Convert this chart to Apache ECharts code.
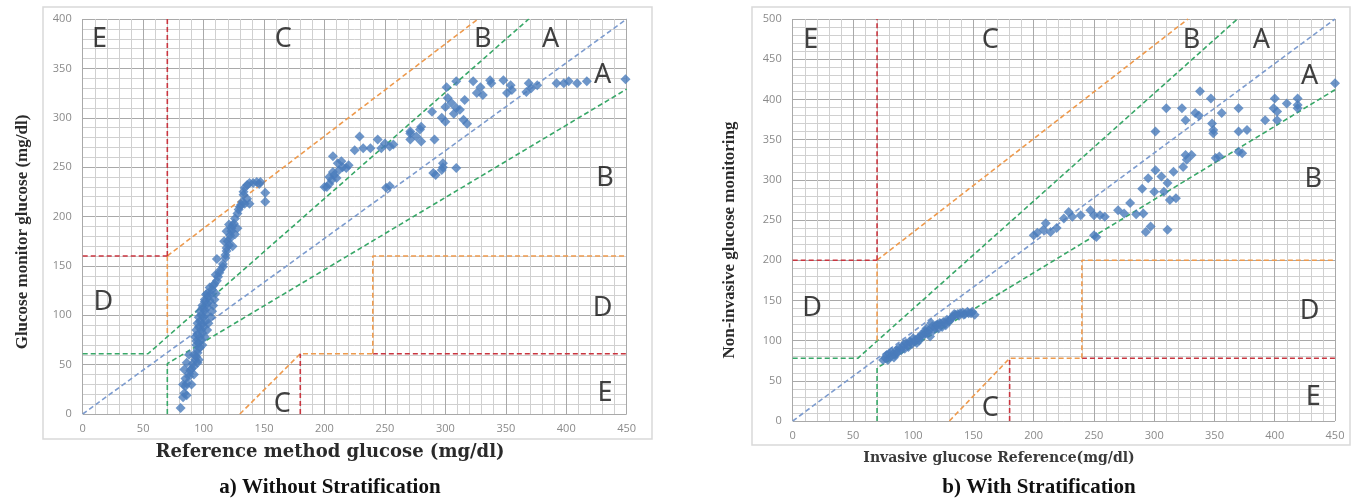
<!DOCTYPE html>
<html>
<head>
    <meta charset="utf-8">
    <title>Clarke error grid</title>
    <script src="https://cdn.jsdelivr.net/npm/echarts@6/dist/echarts.min.js"></script>
</head>
<body style="margin:0;background-color:#fff;">
    <div id="main" style="width:1352px;height:500px;"></div>
    <script type="text/javascript">
        // ---------- a) Without Stratification ----------
        // measured points [reference, monitor]
        var ptsA = [
            [81,6],[83,17],[84,21],[86,19],[85,28],[86,31],[83,30],[90,30],[85,36],[88,38],[88,41],[92,40],
            [89,44],[84,45],[90,46],[92,48],[91,51],[86,52],[95,52],[93,55],[96,55],[94,58],[92,60],[88,60],
            [95,62],[95,65],[97,67],[94,70],[99,70],[96,72],[94,74],[98,75],[97,78],[93,78],[101,78],[95,80],
            [99,82],[98,85],[94,85],[103,85],[96,88],[100,88],[99,91],[95,92],[104,92],[97,94],[101,94],
            [100,98],[96,98],[106,98],[98,100],[102,101],[101,105],[97,104],[107,104],[99,107],[103,108],
            [103,112],[99,110],[108,110],[101,114],[105,115],[101,116],[109,116],[104,119],[102,121],[106,122],
            [103,122],[110,122],[107,126],[105,128],[108,130],[109,132],[111,135],[112,139],[110,141],[113,143],
            [114,146],[116,149],[116,152],[111,157],[118,158],[118,161],[119,165],[119,168],[121,171],[120,175],
            [117,175],[124,170],[122,178],[122,181],[119,185],[126,182],[123,185],[123,188],[121,192],[128,188],
            [124,191],[125,193],[126,198],[128,203],[129,207],[130,210],[131,212],[132,215],[134,213],[138,213],
            [136,218],[133,222],[133,225],[134,229],[136,232],[138,234],[141,234],[144,235],[147,235],[146,233],
            [151,224],[151,215],
            [200,230],[202,230],[204,233],[206,237],[204,240],[208,242],[207,245],[210,239],[212,247],[215,250],
            [218,249],[211,254],[207,261],[214,256],[220,252],[225,267],[229,281],[232,269],[238,269],[244,278],
            [247,269],[250,274],[254,271],[251,229],[254,231],[257,273],
            [271,278],[276,281],[280,276],[271,286],[271,284],[280,291],[279,288],[289,306],[291,278],[290,244],
            [292,242],[297,247],[298,254],[298,250],[309,249],[297,300],[300,296],[300,311],[302,320],[301,331],
            [309,337],[305,315],[309,310],[307,304],[315,298],[318,294],[312,308],[316,318],[323,337],[326,325],
            [329,331],[331,323],[337,338],[338,335],[348,338],[354,333],[351,325],[355,328],[369,335],[371,330],
            [367,326],[376,333],[392,335],[398,335],[402,337],[409,335],[417,337],[449,339]
        ];
        // zone boundaries a)
        var aDiag = [[0,0],[450,400]];
        var aGreenUp = [[0,61],[54,61],[369,400]];
        var aGreenLow = [[70,0],[70,51],[450,329]];
        var aOrangeUp = [[70,160],[327,400]];
        var aOrangeV = [[70,82],[70,160]];
        var aRedV = [[70,160],[70,400]];
        var aRedH = [[0,160],[70,160]];
        var aOrangeLow = [[130,0],[180,61],[240,61]];
        var aRedLowV = [[180,0],[180,61]];
        var aRedLowH = [[240,61],[450,61]];
        var aOrangeBox = [[240,61],[240,160],[450,160]];
        var aZones = [[14,379,'E'],[166,379,'C'],[331,379,'B'],[387,379,'A'],[430,343,'A'],[432,239,'B'],
                      [17,113,'D'],[430,107,'D'],[165,10,'C'],[432,21,'E']];

        // ---------- b) With Stratification ----------
        var ptsB = [
            [75,76],[78,82],[81,80],[82,86],[84,79],[86,84],[86,88],[90,88],[92,95],[96,92],[97,99],[100,103],
            [103,97],[106,105],[110,109],[111,115],[114,105],[115,122],[117,113],[121,115],[122,122],[127,119],
            [128,126],[132,128],[135,132],[139,134],[142,132],[145,136],[149,136],[151,132],
            [77,78],[80,84],[85,82],[88,91],[93,90],[94,97],[99,96],[102,101],[105,100],[108,106],[110,112],
            [112,110],[118,116],[119,119],[124,117],[125,123],[130,124],[133,130],[137,133],[141,135],[146,134],
            [79,76],[83,83],[87,86],[91,92],[95,95],[98,98],[101,99],[104,103],[107,108],[113,113],[116,118],
            [120,120],[123,121],[127,122],[131,127],[134,133],[138,131],[143,133],[148,134],
            [200,231],[203,234],[208,238],[210,246],[214,235],[219,240],[225,252],[229,260],[232,254],[239,256],
            [247,262],[250,256],[255,256],[259,254],[252,229],[250,231],[270,262],[275,258],[280,271],[285,257],
            [291,258],[293,235],[297,242],[311,238],[290,289],[295,302],[300,285],[301,312],[306,304],[311,296],
            [308,285],[316,310],[313,275],[318,277],[301,360],[310,389],[323,389],[326,374],[334,383],[337,380],
            [338,410],[347,401],[348,370],[349,362],[349,358],[356,383],[326,331],[331,331],[327,325],[324,316],
            [351,327],[354,329],[370,389],[370,360],[377,362],[370,335],[373,333],[392,374],[399,389],[400,401],
            [402,385],[402,374],[410,395],[419,401],[419,393],[419,389],[450,420]
        ];
        var bDiag = [[0,0],[450,500]];
        var bGreenUp = [[0,78],[54,78],[369,500]];
        var bGreenLow = [[70,0],[70,66],[450,412]];
        var bOrangeUp = [[70,200],[328,500]];
        var bOrangeV = [[70,100],[70,200]];
        var bRedV = [[70,200],[70,500]];
        var bRedH = [[0,200],[70,200]];
        var bOrangeLow = [[130,0],[180,78],[240,78]];
        var bRedLowV = [[180,0],[180,78]];
        var bRedLowH = [[240,78],[450,78]];
        var bOrangeBox = [[240,78],[240,200],[450,200]];
        var bZones = [[15,474,'E'],[164,474,'C'],[331,474,'B'],[389,474,'A'],[429,429,'A'],[432,300,'B'],
                      [16,140,'D'],[429,137,'D'],[164,16,'C'],[432,29,'E']];

        var BLUE = '#7d9ccf', GREEN = '#38a868', ORANGE = '#ee9a4d', RED = '#c9353f';

        var myChart = echarts.init(document.getElementById('main'));

        function axisX(idx) {
            return {
                type: 'value', gridIndex: idx, min: 0, max: 450, interval: 50,
                axisLine: { show: false }, axisTick: { show: false },
                axisLabel: { color: '#8a8a8a', fontSize: 11, fontFamily: 'Open Sans', margin: 9 },
                splitLine: { show: true, lineStyle: { color: '#a9a9a9', width: 1 } },
                minorTick: { show: false, splitNumber: 5 },
                minorSplitLine: { show: true, lineStyle: { color: '#d0d0d0', width: 1 } }
            };
        }
        function axisY(idx, max) {
            return {
                type: 'value', gridIndex: idx, min: 0, max: max, interval: 50,
                axisLine: { show: false }, axisTick: { show: false },
                axisLabel: { color: '#8a8a8a', fontSize: 11, fontFamily: 'Open Sans', margin: 11 },
                splitLine: { show: true, lineStyle: { color: '#a9a9a9', width: 1 } },
                minorTick: { show: false, splitNumber: 5 },
                minorSplitLine: { show: true, lineStyle: { color: '#d0d0d0', width: 1 } }
            };
        }
        function zoneLine(idx, data, color) {
            return {
                type: 'line', xAxisIndex: idx, yAxisIndex: idx, data: data, symbol: 'none',
                lineStyle: { color: color, width: 1.6, type: [5, 3] }, z: 3, silent: true
            };
        }
        function zoneText(idx, data) {
            return {
                type: 'scatter', xAxisIndex: idx, yAxisIndex: idx, data: data, symbolSize: 1,
                itemStyle: { color: 'transparent' }, z: 5,
                label: {
                    show: true, position: 'inside', color: '#111', fontSize: 27,
                    fontFamily: 'Noto Sans', formatter: function (p) { return p.value[2]; }
                }
            };
        }
        function pts(idx, data) {
            return {
                type: 'scatter', xAxisIndex: idx, yAxisIndex: idx, data: data,
                symbol: 'diamond', symbolSize: 10, itemStyle: { color: '#4a7cbc' }, z: 4
            };
        }

        var option = {
            animation: false,
            grid: [
                { left: 82.7, top: 19, width: 544, height: 395 },
                { left: 792.7, top: 19, width: 542.3, height: 402 }
            ],
            xAxis: [axisX(0), axisX(1)],
            yAxis: [axisY(0, 400), axisY(1, 500)],
            graphic: [
                { type: 'rect', shape: { x: 43, y: 7, width: 609, height: 432 }, style: { fill: 'none', stroke: '#d9d9d9', lineWidth: 1.5 }, z: -1 },
                { type: 'rect', shape: { x: 752, y: 7, width: 598, height: 438 }, style: { fill: 'none', stroke: '#d9d9d9', lineWidth: 1.5 }, z: -1 },
                { type: 'text', x: 330, y: 452, style: { text: 'Reference method glucose (mg/dl)', font: 'bold 18px "DejaVu Serif"', fill: '#2a2a2a', align: 'center', verticalAlign: 'middle' } },
                { type: 'text', x: 999, y: 458, style: { text: 'Invasive glucose Reference(mg/dl)', font: 'bold 14px "DejaVu Serif"', fill: '#3a3a3a', align: 'center', verticalAlign: 'middle' } },
                { type: 'text', x: 23, y: 232, rotation: Math.PI / 2, style: { text: 'Glucose monitor glucose (mg/dl)', font: 'bold 17px "Liberation Serif"', fill: '#2a2a2a', align: 'center', verticalAlign: 'middle' } },
                { type: 'text', x: 730, y: 240, rotation: Math.PI / 2, style: { text: 'Non-invasive glucose monitoring', font: 'bold 17px "Liberation Serif"', fill: '#2a2a2a', align: 'center', verticalAlign: 'middle' } },
                { type: 'text', x: 330, y: 488, style: { text: 'a) Without Stratification', font: 'bold 21px "Liberation Serif"', fill: '#111', align: 'center', verticalAlign: 'middle' } },
                { type: 'text', x: 1039, y: 488, style: { text: 'b) With Stratification', font: 'bold 21px "Liberation Serif"', fill: '#111', align: 'center', verticalAlign: 'middle' } }
            ],
            series: [
                zoneLine(0, aDiag, BLUE),
                zoneLine(0, aGreenUp, GREEN),
                zoneLine(0, aGreenLow, GREEN),
                zoneLine(0, aOrangeUp, ORANGE),
                zoneLine(0, aOrangeV, ORANGE),
                zoneLine(0, aRedV, RED),
                zoneLine(0, aRedH, RED),
                zoneLine(0, aOrangeLow, ORANGE),
                zoneLine(0, aRedLowV, RED),
                zoneLine(0, aRedLowH, RED),
                zoneLine(0, aOrangeBox, ORANGE),
                pts(0, ptsA),
                zoneText(0, aZones),

                zoneLine(1, bDiag, BLUE),
                zoneLine(1, bGreenUp, GREEN),
                zoneLine(1, bGreenLow, GREEN),
                zoneLine(1, bOrangeUp, ORANGE),
                zoneLine(1, bOrangeV, ORANGE),
                zoneLine(1, bRedV, RED),
                zoneLine(1, bRedH, RED),
                zoneLine(1, bOrangeLow, ORANGE),
                zoneLine(1, bRedLowV, RED),
                zoneLine(1, bRedLowH, RED),
                zoneLine(1, bOrangeBox, ORANGE),
                pts(1, ptsB),
                zoneText(1, bZones)
            ]
        };
        myChart.setOption(option);
    </script>
</body>
</html>
